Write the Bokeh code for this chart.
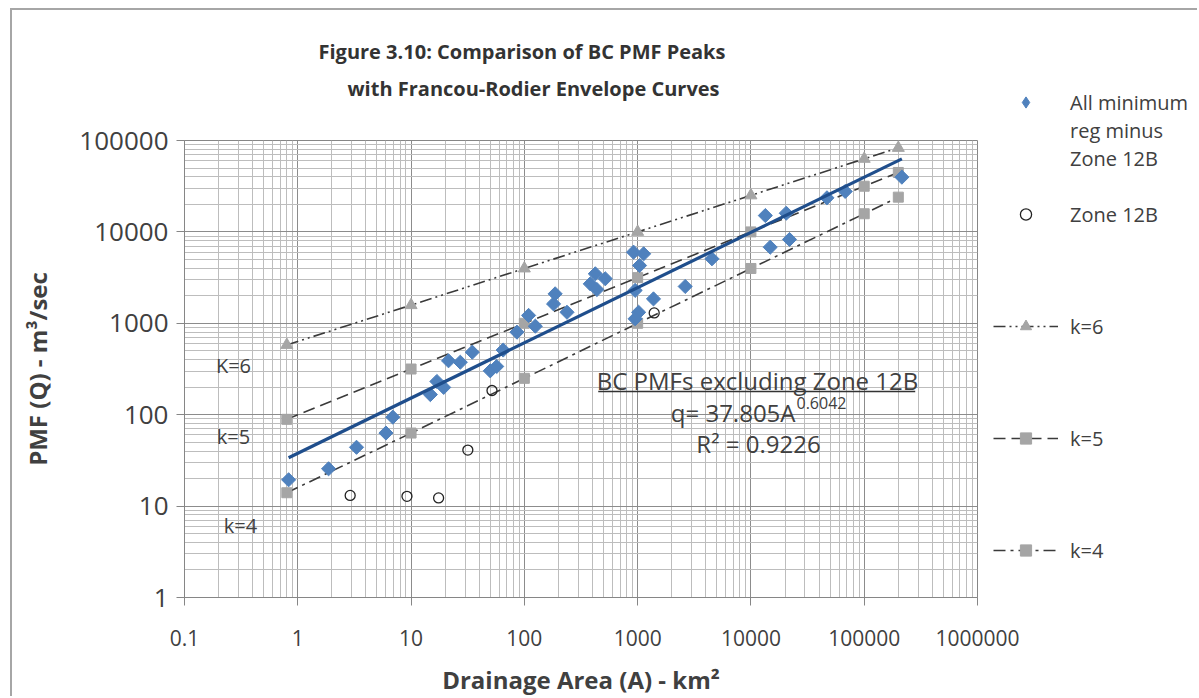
import numpy as np
from bokeh.plotting import figure
from bokeh.core.properties import value
from bokeh.models import Range1d, FixedTicker, CustomJSTickFormatter, Label, Legend, LegendItem, Title
from bokeh.embed import file_html
from bokeh.resources import INLINE

# ---------------- data ----------------
bc_area = [0.83, 1.87, 3.3, 6.0, 6.9, 14.8, 16.9, 19.4, 21.4, 27.2, 34.7, 50, 57, 65, 86,
           109, 125, 181, 187, 238, 382, 423, 518, 437, 920, 1130, 1040, 950, 1380, 1020,
           950, 2630, 4530, 13400, 14800, 20500, 21900, 46900, 68000, 215000]
bc_q = [19.4, 25.6, 44, 63, 94, 166, 231, 199, 389, 375, 483, 302, 337, 510, 800,
        1220, 930, 1630, 2100, 1320, 2700, 3480, 3070, 2340, 6000, 5760, 4290, 2290, 1850, 1320,
        1120, 2530, 5080, 15100, 6800, 16000, 8260, 23600, 27700, 39700]

z12b_area = [2.9, 9.2, 17.5, 31.7, 51.8, 1400]
z12b_q = [13.1, 12.8, 12.3, 41, 184, 1300]

env_area = [0.8, 10, 100, 1000, 10000, 100000, 200000]
k6_q = [580, 1580, 3980, 10000, 25100, 63000, 83000]
k5_q = [89, 316, 1000, 3160, 10000, 31600, 44700]
k4_q = [14, 63, 250, 1000, 3980, 15800, 24000]

fit_area = [0.83, 215000]
fit_q = [33.8, 63000]

x_ticks = [0.1, 1, 10, 100, 1000, 10000, 100000, 1000000]
y_ticks = [1, 10, 100, 1000, 10000, 100000]

FONT = "Open Sans"
TXT = "#404040"
GRAY = "#a5a5a5"
LINE = "#3a3a3a"
BLUE = "#4f81bd"

# ---------------- main figure ----------------
FL, FT, FW, FH = 172, 130, 793, 457
W, H = 1187, 688

p = figure(width=W, height=H, x_axis_type="log", y_axis_type="log",
           x_range=Range1d(0.1, 1e6), y_range=Range1d(1, 1e5),
           output_backend="svg", toolbar_location=None, title_location=None,
           min_border_left=FL, min_border_top=FT,
           min_border_right=W - FL - FW, min_border_bottom=H - FT - FH)
p.styles = {"margin-left": "10px", "margin-top": "8px",
            "border-left": "2px solid #a6a6a6", "border-top": "2px solid #a6a6a6"}
p.background_fill_color = "white"
p.border_fill_color = "white"
p.outline_line_color = "#868686"

xminor = [m * 10.0 ** e for e in range(-1, 6) for m in range(2, 10)]
yminor = [m * 10.0 ** e for e in range(0, 5) for m in range(2, 10)]
xt = FixedTicker(ticks=x_ticks, minor_ticks=xminor)
yt = FixedTicker(ticks=y_ticks, minor_ticks=yminor)
p.xaxis.ticker = xt
p.yaxis.ticker = yt
p.xgrid.ticker = xt
p.ygrid.ticker = yt
p.xaxis.formatter = CustomJSTickFormatter(code="return tick < 1 ? tick.toFixed(1) : tick.toFixed(0);")
p.yaxis.formatter = CustomJSTickFormatter(code="return tick.toFixed(0);")

for g in (p.xgrid, p.ygrid):
    g.grid_line_color = "#8c8c8c"
    g.grid_line_width = 1
    g.minor_grid_line_color = "#bdbdbd"
    g.minor_grid_line_width = 1

for ax in (p.xaxis, p.yaxis):
    ax.axis_line_color = "#868686"
    ax.major_tick_line_color = "#868686"
    ax.major_tick_out = 8
    ax.major_tick_in = 0
    ax.minor_tick_out = 0
    ax.minor_tick_in = 0
    ax.major_label_text_font = FONT
    ax.major_label_text_color = TXT
    ax.axis_label_text_font = FONT
    ax.axis_label_text_font_style = "bold"
    ax.axis_label_text_color = TXT

p.xaxis.major_label_text_font_size = "21px"
p.yaxis.major_label_text_font_size = "26px"
p.xaxis.axis_label_text_font_size = "24px"
p.yaxis.axis_label_text_font_size = "24px"
p.xaxis.axis_label = "Drainage Area (A) - km²"
p.yaxis.axis_label = "PMF (Q) - m³/sec"
p.xaxis.major_label_standoff = 24
p.yaxis.major_label_standoff = 8
p.xaxis.axis_label_standoff = 14
p.yaxis.axis_label_standoff = 22

# ---------------- series ----------------
p.line(env_area, k6_q, line_color=LINE, line_width=1.6, line_dash="12 4 2 4 2 4")
p.scatter(env_area, k6_q, marker="triangle", size=12, fill_color=GRAY, line_color=GRAY)
p.line(env_area, k5_q, line_color=LINE, line_width=1.6, line_dash="12 6")
p.scatter(env_area, k5_q, marker="square", size=10, fill_color=GRAY, line_color=GRAY)
p.line(env_area, k4_q, line_color=LINE, line_width=1.6, line_dash="12 5 3 5")
p.scatter(env_area, k4_q, marker="square", size=10, fill_color=GRAY, line_color=GRAY)

p.scatter(bc_area, bc_q, marker="square", angle=np.pi / 4, size=10,
          fill_color=BLUE, line_color=BLUE)
p.scatter(z12b_area, z12b_q, marker="circle", size=10, fill_color=None,
          line_color="#222222", line_width=1.3)
p.line(fit_area, fit_q, line_color="#1f4e8c", line_width=3.2)

# ---------------- title (two lines, above; spacer nearest the frame) ----------------
def title(text, offset, standoff):
    return Title(text=text, align="left", offset=offset, text_font=FONT,
                 text_font_size="20px", text_font_style="bold",
                 text_color="#333333", standoff=standoff)

p.add_layout(title("\u00a0", 0, 10), "above")
p.add_layout(title("with Francou-Rodier Envelope Curves", 163, 0), "above")
p.add_layout(title("Figure 3.10: Comparison of BC PMF Peaks", 134, 15), "above")

# ---------------- in-plot labels ----------------
def label(text, x, y, size, align="left", base="middle"):
    p.add_layout(Label(x=x, y=y, x_units="screen", y_units="screen", text=text,
                       text_font=FONT, text_font_size=size,
                       text_align=align, text_baseline=base, text_color=TXT))

label("K=6", 49, 232, "20px", "center")
label("k=5", 49, 161, "20px", "center")
label("k=4", 56, 72, "20px", "center")

label("BC PMFs excluding Zone 12B", 573, 217, "24px", "center")
label("q= 37.805A", 611, 185, "24px", "right")
label("0.6042", 612, 195, "16px", "left")
label("R² = 0.9226", 574, 154, "24px", "center")
p.segment(x0=[449], y0=[179], x1=[282000], y1=[179], line_color="#333333", line_width=1.5)

# ---------------- legend figure (separate root, laid over the right margin) ----------------
LW = 214
q = figure(width=LW, height=H, x_range=Range1d(-2, -1), y_range=Range1d(-2, -1),
           output_backend="svg", toolbar_location=None, title_location=None,
           x_axis_location=None, y_axis_location=None,
           min_border_left=0, min_border_right=0, min_border_top=0, min_border_bottom=0)
q.grid.visible = False
q.outline_line_color = None
q.background_fill_alpha = 0
q.border_fill_alpha = 0
q.styles = {"position": "absolute", "left": "985px", "top": "10px"}

l6 = q.line(env_area, k6_q, line_color=LINE, line_width=1.6, line_dash="12 4 2 4 2 4")
m6 = q.scatter(env_area, k6_q, marker="triangle", size=10, fill_color=GRAY, line_color=GRAY)
l5 = q.line(env_area, k5_q, line_color=LINE, line_width=1.6, line_dash="12 6")
m5 = q.scatter(env_area, k5_q, marker="square", size=9, fill_color=GRAY, line_color=GRAY)
l4 = q.line(env_area, k4_q, line_color=LINE, line_width=1.6, line_dash="12 5 3 5")
m4 = q.scatter(env_area, k4_q, marker="square", size=9, fill_color=GRAY, line_color=GRAY)
mb = q.scatter(bc_area, bc_q, marker="diamond", size=10, fill_color=BLUE, line_color=BLUE)
mz = q.scatter(z12b_area, z12b_q, marker="circle", size=9, fill_color=None,
               line_color="#222222", line_width=1.3)

STEP = 28
def item(text, rends=None):
    return LegendItem(label=value(text), renderers=rends or [])

items = [item("All minimum", [mb]), item("reg minus"), item("Zone 12B"), item(" "),
         item("Zone 12B", [mz]), item(" "), item(" "), item(" "),
         item("k=6", [l6, m6]), item(" "), item(" "), item(" "),
         item("k=5", [l5, m5]), item(" "), item(" "), item(" "),
         item("k=4", [l4, m4])]
leg_bottom_page = 102 - STEP // 2 + STEP * len(items)
legend = Legend(items=items, location=(8, 698 - leg_bottom_page),
                orientation="vertical", glyph_width=65, glyph_height=STEP,
                label_height=STEP, label_standoff=12, padding=0, margin=0, spacing=0,
                background_fill_alpha=0, border_line_alpha=0,
                label_text_font=FONT, label_text_font_size="20px", label_text_color=TXT)
q.add_layout(legend, "center")

open("out.html", "w").write(file_html([p, q], INLINE))
